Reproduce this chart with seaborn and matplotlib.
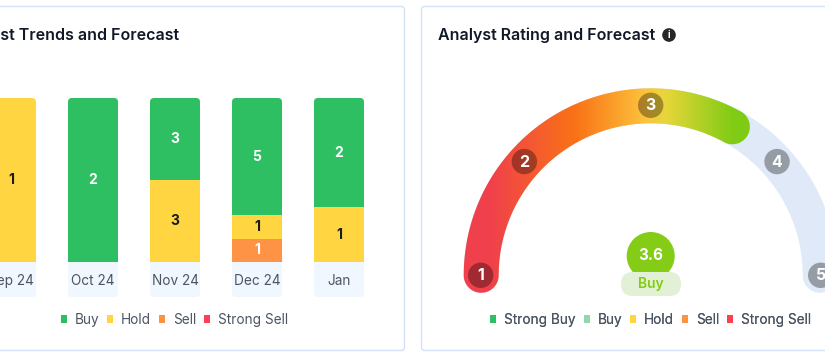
"""
Analyst trends (stacked share bars) and analyst rating gauge
"""
import numpy as np
import matplotlib
matplotlib.use("Agg")
import matplotlib.pyplot as plt
import seaborn as sns
from matplotlib.colors import LinearSegmentedColormap
from matplotlib.patches import Circle, FancyBboxPatch, PathPatch, Patch
from matplotlib.path import Path
from matplotlib.transforms import IdentityTransform

months = ["Sep 24", "Oct 24", "Nov 24", "Dec 24", "Jan"]
strong_sell = [0, 0, 0, 0, 0]
sell = [0, 0, 0, 1, 0]
hold = [1, 0, 3, 1, 1]
buy = [0, 2, 3, 5, 2]

rating_ticks = [1, 2, 3, 4, 5]
rating_angles = [180, 138, 90, 42, 0]
rating_value = 3.6
rating_label = "Buy"

GREEN = "#2fbf63"
LIGHT_GREEN = "#8fd9ae"
YELLOW = "#ffd641"
ORANGE = "#ff9345"
RED = "#ff4054"
LIME = "#84cc16"
TEXT = "#4b5563"
W, H = 825, 358

sns.set_theme(style="white")
plt.rcParams["font.family"] = ["Inter", "DejaVu Sans"]

fig = plt.figure(figsize=(W / 100, H / 100), dpi=100)

# overlay in pixel coordinates for cards and the gauge
pax = fig.add_axes([0, 0, 1, 1], zorder=0)
pax.set_xlim(0, W)
pax.set_ylim(H, 0)
pax.axis("off")


def rounded(x0, y0, x1, y1, r, **kw):
    box = FancyBboxPatch((x0, y0), x1 - x0, y1 - y0, boxstyle=f"round,pad=0,rounding_size={r}", **kw)
    pax.add_patch(box)
    return box


rounded(-20, 6.5, 404.5, 350.5, 3, fc="white", ec="#d3e1f6", lw=1)
rounded(421.5, 6.5, 850, 350.5, 3, fc="white", ec="#d3e1f6", lw=1)

pax.text(179, 35.5, "Analyst Trends and Forecast", ha="right", va="center",
         fontsize=11.5, fontweight="semibold", color="#111827")
pax.text(438, 35.5, "Analyst Rating and Forecast", ha="left", va="center",
         fontsize=11.5, fontweight="semibold", color="#111827")
pax.add_patch(Circle((669, 35), 6.8, fc="#262626", ec="none"))
pax.text(669, 35, "i", ha="center", va="center", fontsize=7, fontweight="bold", color="white")

# ---- stacked bars ----
# axes starts left of the figure so the cut off Sep bar keeps its label centred
ax = fig.add_axes([-20 / W, 1 - 262 / H, 425 / W, 164 / H], zorder=1)
ax.patch.set_alpha(0)

totals = np.array(strong_sell) + np.array(sell) + np.array(hold) + np.array(buy)
stack = [(strong_sell, RED, "white"), (sell, ORANGE, "white"), (hold, YELLOW, "#1a1a1a"), (buy, GREEN, "white")]
bottom = np.zeros(len(months))
for counts, color, label_color in stack:
    share = np.array(counts) / totals
    sns.barplot(x=months, y=share, bottom=bottom, color=color, saturation=1, width=50 / 82,
                errorbar=None, linewidth=0, ax=ax)
    bottom = bottom + share
    ax.bar_label(ax.containers[-1], labels=[str(c) if c else "" for c in counts], label_type="center",
                 color=label_color, fontsize=10, fontweight="bold")

ax.set_xlim(-31 / 82, (405 - 11) / 82)
ax.set_ylim(0, 1)
ax.set_yticks([])
ax.set_ylabel("")
ax.tick_params(axis="x", length=0, pad=8.5, labelsize=9.8, labelcolor=TEXT)
sns.despine(ax=ax, left=True, bottom=True)

# rounded tops and label boxes under each bar
fig.canvas.draw()
for container in ax.containers:
    for bar in container:
        ext = bar.get_window_extent()
        if ext.height == 0:
            continue
        top = ax.transData.transform((0, 1))[1]
        clip = FancyBboxPatch((ext.x0, ext.y0 - 20), ext.width, top - ext.y0 + 20,
                              boxstyle="round,pad=0,rounding_size=4", transform=IdentityTransform())
        bar.set_clip_path(clip)
for pos in range(len(months)):
    cx = 11 + pos * 82
    rounded(cx - 25, 250, cx + 25, 297, 4, fc="#f1f7fe", ec="none")

# ---- gauge ----
CX, CY = 650.7, 275.3
R_OUT, R_IN = 187, 152


def band(theta1, theta2):
    """Outline of a thick arc with round ends, theta in degrees, going clockwise."""
    t = np.radians(np.linspace(theta1, theta2, 200))
    tr = (R_OUT - R_IN) / 2
    rm = (R_OUT + R_IN) / 2
    end = np.linspace(0, -np.pi, 40)
    outer = np.c_[CX + R_OUT * np.cos(t), CY - R_OUT * np.sin(t)]
    cap2 = np.c_[CX + rm * np.cos(t[-1]) + tr * np.cos(t[-1] + end),
                 CY - rm * np.sin(t[-1]) - tr * np.sin(t[-1] + end)]
    inner = np.c_[CX + R_IN * np.cos(t[::-1]), CY - R_IN * np.sin(t[::-1])]
    cap1 = np.c_[CX + rm * np.cos(t[0]) + tr * np.cos(t[0] + np.pi + end),
                 CY - rm * np.sin(t[0]) - tr * np.sin(t[0] + np.pi + end)]
    return Path(np.vstack([outer, cap2, inner, cap1, outer[:1]]))


pax.add_patch(PathPatch(band(180, 0), fc="#e0e9f8", ec="none"))

value_angle = np.interp(rating_value, rating_ticks, rating_angles)
gauge_cmap = LinearSegmentedColormap.from_list(
    "gauge", [(0, "#f0404c"), (0.10, "#f0404c"), (0.40, "#f97316"), (0.64, "#fdc33c"),
              (0.71, "#e8d63a"), (0.94, "#82cc16"), (1, "#7ecb14")])
im = pax.imshow(np.linspace(0, 1, 400)[None, :], extent=(460, 750, 300, 80), cmap=gauge_cmap,
                aspect="auto", vmin=0, vmax=1, zorder=2)
clip_patch = PathPatch(band(180, value_angle), transform=pax.transData)
im.set_clip_path(clip_patch)
pax.set_xlim(0, W)
pax.set_ylim(H, 0)

for tick, angle in zip(rating_ticks, rating_angles):
    a = np.radians(angle)
    px, py = CX + 170 * np.cos(a), CY - 170 * np.sin(a)
    pax.add_patch(Circle((px, py), 12.7, fc="black", alpha=0.33, ec="none", zorder=3))
    pax.text(px, py + 0.5, str(tick), ha="center", va="center", color="white",
             fontsize=11.5, fontweight="bold", zorder=4)

pax.add_patch(Circle((CX, 256), 24, fc=LIME, ec="none", zorder=3))
pax.text(CX, 256, f"{rating_value}", ha="center", va="center", color="white",
         fontsize=11, fontweight="bold", zorder=4)
rounded(621, 272, 681, 296, 12, fc="#e2f0d5", ec="none", zorder=5)
pax.text(CX, 284, rating_label, ha="center", va="center", color=LIME,
         fontsize=10, fontweight="semibold", zorder=6)


# ---- legends ----
def add_legend(names, colors, center_x):
    handles = [Patch(fc=c, ec="none", label=n) for n, c in zip(names, colors)]
    leg = pax.legend(handles=handles, ncol=len(names), loc="center", bbox_to_anchor=(center_x, 320),
                     bbox_transform=pax.transData, frameon=False, fontsize=9.8, labelcolor=TEXT,
                     handlelength=0.45, handleheight=0.45, handletextpad=0.58, columnspacing=0.58,
                     borderpad=0, borderaxespad=0)
    pax.add_artist(leg)


add_legend(["Buy", "Hold", "Sell", "Strong Sell"], [GREEN, YELLOW, ORANGE, RED], 174.5)
add_legend(["Strong Buy", "Buy", "Hold", "Sell", "Strong Sell"], [GREEN, LIGHT_GREEN, YELLOW, ORANGE, RED], 650.7)

fig.savefig("out.png", dpi=100)
